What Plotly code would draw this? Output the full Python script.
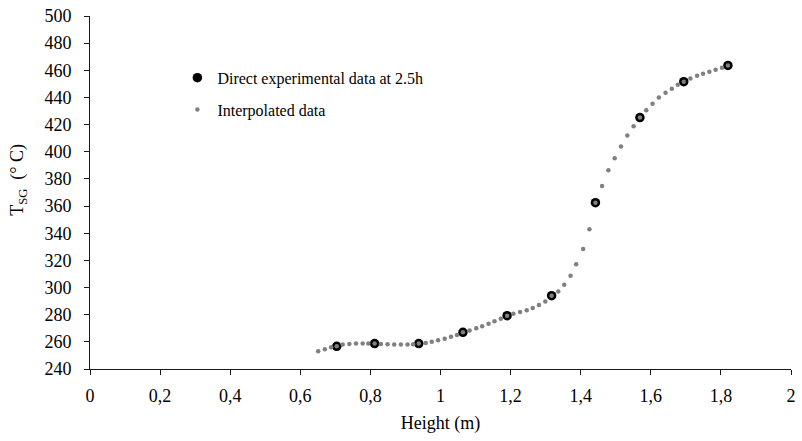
import plotly.graph_objects as go

# Measured temperatures of the solid/gas (T_SG) at 2.5 h along the bed height
exp_height = [0.704, 0.812, 0.938, 1.064, 1.190, 1.317, 1.442, 1.569, 1.694, 1.820]
exp_temp = [256.7, 258.7, 258.7, 267.0, 279.3, 294.0, 362.5, 425.2, 451.6, 463.6]

# Interpolated profile between the measurements
interp_height = [
    0.651, 0.670, 0.688, 0.704, 0.721, 0.740, 0.759, 0.778, 0.794, 0.812,
    0.830, 0.849, 0.868, 0.887, 0.906, 0.922, 0.938, 0.958, 0.975, 0.993,
    1.012, 1.030, 1.047, 1.064, 1.083, 1.102, 1.119, 1.137, 1.154, 1.172,
    1.190, 1.208, 1.227, 1.246, 1.263, 1.281, 1.299, 1.317, 1.336, 1.353,
    1.371, 1.387, 1.407, 1.425, 1.442, 1.461, 1.479, 1.497, 1.515, 1.533,
    1.551, 1.569, 1.587, 1.605, 1.623, 1.642, 1.660, 1.677, 1.694, 1.713,
    1.732, 1.749, 1.767, 1.785, 1.803, 1.820,
]
interp_temp = [
    253.1, 254.5, 256.0, 256.7, 258.0, 258.5, 258.7, 258.7, 258.7, 258.7,
    258.5, 258.2, 258.0, 258.0, 258.0, 258.2, 258.7, 259.2, 260.0, 261.1,
    262.3, 263.7, 265.0, 267.0, 268.3, 270.0, 271.4, 273.4, 275.1, 277.1,
    279.3, 280.7, 282.0, 283.2, 284.9, 287.1, 289.8, 294.0, 297.1, 302.0,
    308.6, 317.2, 328.3, 342.9, 362.5, 374.7, 386.3, 395.3, 403.9, 412.0,
    418.8, 425.2, 430.5, 435.4, 439.9, 443.5, 446.5, 449.4, 451.6, 454.0,
    455.9, 457.5, 458.9, 460.4, 461.9, 463.6,
]

x_ticks = [0, 0.2, 0.4, 0.6, 0.8, 1, 1.2, 1.4, 1.6, 1.8, 2]
y_ticks = list(range(240, 501, 20))

FONT = "Liberation Serif, Times New Roman, serif"
AXIS_SIZE = 18

fig = go.Figure()
fig.add_trace(go.Scatter(
    x=exp_height, y=exp_temp, mode="markers",
    name="Direct experimental data at 2.5h",
    marker=dict(color="black", size=9.5, line=dict(width=0)),
    legendgroup="a",
))
fig.add_trace(go.Scatter(
    x=interp_height, y=interp_temp, mode="markers",
    name="Interpolated data",
    marker=dict(color="#808080", size=4.5, line=dict(width=0)),
    legendgroup="b",
))

axis_common = dict(
    showgrid=False, zeroline=False, showline=True, linecolor="#1a1a1a",
    linewidth=1, ticks="outside", tickcolor="#1a1a1a", ticklen=5,
    tickfont=dict(family=FONT, size=AXIS_SIZE, color="black"),
)

fig.update_layout(
    width=802, height=441,
    margin=dict(l=90, r=6, t=15, b=72),
    paper_bgcolor="white", plot_bgcolor="white",
    separators=",.",
    font=dict(family=FONT, size=16, color="black"),
    xaxis=dict(
        range=[0, 2], tickvals=x_ticks,
        title=dict(text="Height (m)", font=dict(family=FONT, size=AXIS_SIZE),
                   standoff=11),
        ticklabelstandoff=5,
        **axis_common,
    ),
    yaxis=dict(
        range=[240, 500], tickvals=y_ticks,
        ticklabelstandoff=9,
        **axis_common,
    ),
    legend=dict(
        x=(178 - 90) / 706, y=(369.5 - 60) / 354.5,
        xanchor="left", yanchor="top",
        bgcolor="rgba(0,0,0,0)", tracegroupgap=8,
        font=dict(family=FONT, size=16),
        itemsizing="trace",
    ),
    showlegend=True,
)

# Rotated y-axis title with subscript
fig.add_annotation(
    text="T<sub>SG</sub>  (° C)", textangle=-90,
    xref="paper", yref="paper",
    x=(18 - 90) / 706, y=(369.5 - 180) / 354.5,
    xanchor="center", yanchor="middle", showarrow=False,
    font=dict(family=FONT, size=AXIS_SIZE, color="black"),
)

fig.write_html("out.html")
